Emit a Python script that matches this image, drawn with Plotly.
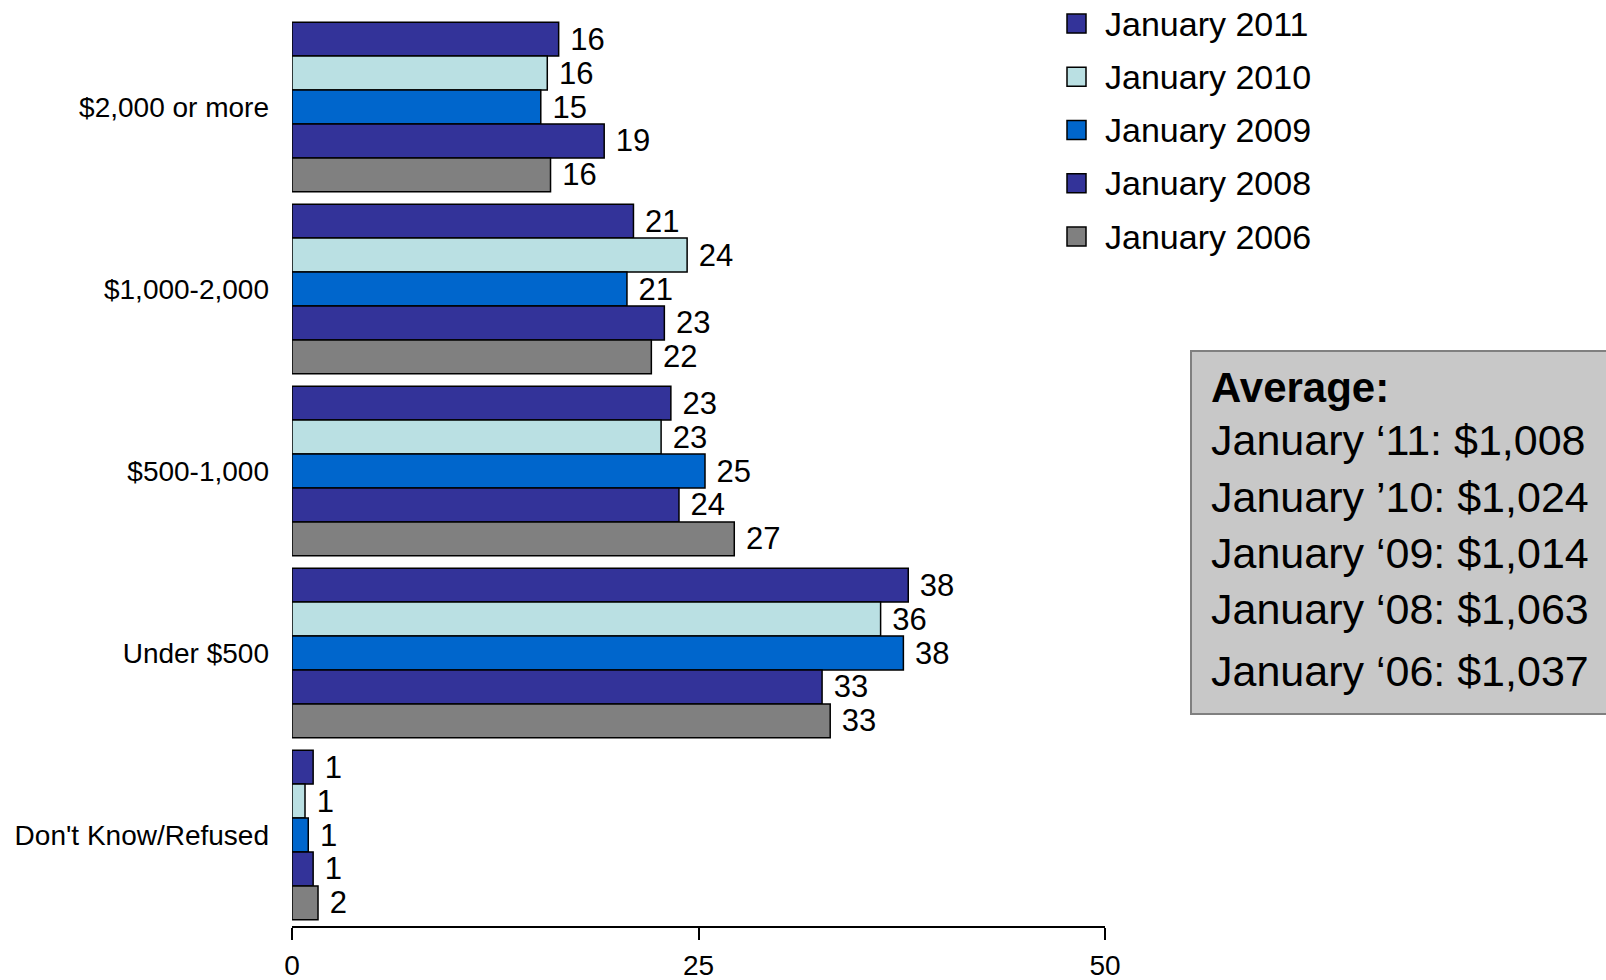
import plotly.graph_objects as go

categories = ["$2,000 or more", "$1,000-2,000", "$500-1,000", "Under $500", "Don't Know/Refused"]
series_names = ["January 2011", "January 2010", "January 2009", "January 2008", "January 2006"]
series_colors = ["#333399", "#BAE0E3", "#0066CC", "#333399", "#808080"]

jan2011 = [16.4, 21.0, 23.3, 37.9, 1.3]
jan2010 = [15.7, 24.3, 22.7, 36.2, 0.8]
jan2009 = [15.3, 20.6, 25.4, 37.6, 1.0]
jan2008 = [19.2, 22.9, 23.8, 32.6, 1.3]
jan2006 = [15.9, 22.1, 27.2, 33.1, 1.6]

labels2011 = ["16", "21", "23", "38", "1"]
labels2010 = ["16", "24", "23", "36", "1"]
labels2009 = ["15", "21", "25", "38", "1"]
labels2008 = ["19", "23", "24", "33", "1"]
labels2006 = ["16", "22", "27", "33", "2"]

x_ticks = [0, 25, 50]

average_title = "Average:"
average_lines = [
    "January \u201811: $1,008",
    "January \u201910: $1,024",
    "January \u201809: $1,014",
    "January \u201808: $1,063",
    "January \u201806: $1,037",
]

FONT = "Liberation Sans, Arial, sans-serif"

values = [jan2011, jan2010, jan2009, jan2008, jan2006]
labels = [labels2011, labels2010, labels2009, labels2008, labels2006]

fig = go.Figure()
for i, (name, col, vals, labs) in enumerate(zip(series_names, series_colors, values, labels)):
    fig.add_trace(go.Bar(
        y=categories, x=vals, name=name, orientation="h",
        marker=dict(color=col, line=dict(color="#000000", width=1.5)),
        text=labs, texttemplate=" %{text}", textposition="outside",
        constraintext="none", cliponaxis=False,
        textfont=dict(family=FONT, size=31, color="#000000"),
        showlegend=False,
        hoverinfo="skip",
    ))

W, H = 1606, 980
ml, mr, mt, mb = 292, 501, 16, 54
pw = W - ml - mr
ph = H - mt - mb

def px(x):
    return (x - ml) / pw

def py(y):
    return (H - mb - y) / ph

fig.update_layout(
    width=W, height=H,
    margin=dict(l=ml, r=mr, t=mt, b=mb, pad=0, autoexpand=False),
    paper_bgcolor="white", plot_bgcolor="white",
    barmode="group", bargap=0.068, bargroupgap=0,
    font=dict(family=FONT, color="#000000"),
    showlegend=False,
    xaxis=dict(
        range=[0, 50], tickvals=x_ticks, ticktext=[str(t) for t in x_ticks],
        showgrid=False, zeroline=False, showline=True, linecolor="#000000", linewidth=1.5,
        ticks="outside", ticklen=12, tickwidth=1.5, tickcolor="#000000",
        tickfont=dict(family=FONT, size=28, color="#000000"),
        ticklabelstandoff=2, fixedrange=True, automargin=False,
    ),
    yaxis=dict(
        categoryorder="array", categoryarray=categories, autorange="reversed",
        showgrid=False, zeroline=False, showline=False, ticks="",
        tickfont=dict(family=FONT, size=28, color="#000000"),
        ticklabelstandoff=22, fixedrange=True, automargin=False,
    ),
)

# Legend (drawn from the series names and colours)
legend_y = [23.6, 76.8, 130.1, 183.3, 236.6]
for name, col, yy in zip(series_names, series_colors, legend_y):
    fig.add_shape(type="rect", xref="paper", yref="paper",
                  x0=px(1067), x1=px(1086), y0=py(yy + 9.5), y1=py(yy - 9.5),
                  fillcolor=col, line=dict(color="#000000", width=1.5))
    fig.add_annotation(xref="paper", yref="paper", x=px(1103), y=py(yy),
                       xanchor="left", yanchor="middle", showarrow=False,
                       text=name, font=dict(family=FONT, size=34, color="#000000"))

# Average box
fig.add_shape(type="rect", xref="paper", yref="paper",
              x0=px(1191), x1=px(1640), y0=py(714), y1=py(351),
              fillcolor="#C8C8C8", line=dict(color="#808080", width=2), layer="below")

line_y = [387, 440, 497, 553, 609, 671]
fig.add_annotation(xref="paper", yref="paper", x=px(1209), y=py(line_y[0]),
                   xanchor="left", yanchor="middle", showarrow=False,
                   text=f"<b>{average_title}</b>",
                   font=dict(family=FONT, size=42, color="#000000"))
for txt, yy in zip(average_lines, line_y[1:]):
    fig.add_annotation(xref="paper", yref="paper", x=px(1209), y=py(yy),
                       xanchor="left", yanchor="middle", showarrow=False,
                       text=txt, font=dict(family=FONT, size=43, color="#000000"))

fig.write_html("out.html")
